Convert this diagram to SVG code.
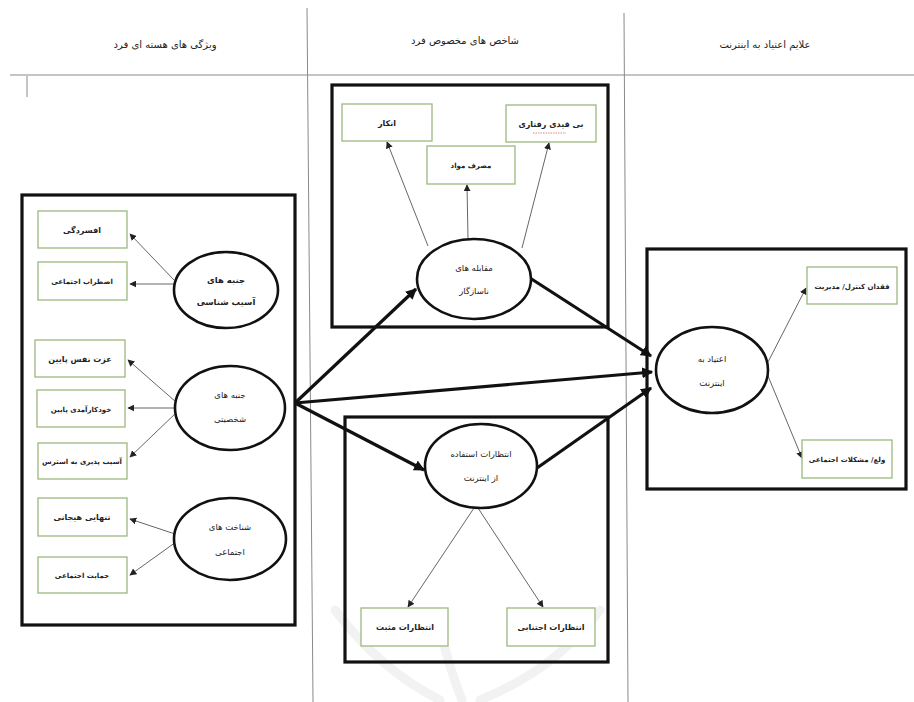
<svg xmlns="http://www.w3.org/2000/svg" width="914" height="702" viewBox="0 0 914 702">
<defs>
<style>
.t{font-family:"DejaVu Sans","Noto Sans",sans-serif;fill:#222;text-anchor:middle;direction:rtl;unicode-bidi:embed}
.h{font-size:10px}
.r{fill:#fff;stroke:#9cb87f;stroke-width:1.3}
.e{fill:#fff;stroke:#111;stroke-width:2.6}
.box{fill:none;stroke:#111;stroke-width:3.2}
.rt{font-size:8px;font-weight:bold}
.sm{font-size:7px}
.et{font-size:8.5px}
.thin{stroke:#555;stroke-width:0.9;fill:none;marker-end:url(#as)}
.thick{stroke:#111;stroke-width:3.2;fill:none;marker-end:url(#al)}
.grid{stroke:#8a8a8a;stroke-width:1;fill:none}
.wm{stroke:#f2f2f2;stroke-width:9;fill:none;stroke-linecap:round}
</style>
<marker id="as" viewBox="0 0 10 10" refX="9" refY="5" markerWidth="7" markerHeight="7" markerUnits="userSpaceOnUse" orient="auto"><path d="M0,0 L10,5 L0,10 z" fill="#222"/></marker>
<marker id="al" viewBox="0 0 10 10" refX="9" refY="5" markerWidth="11" markerHeight="11" markerUnits="userSpaceOnUse" orient="auto"><path d="M0,0 L10,5 L0,10 z" fill="#111"/></marker>
</defs>
<rect width="914" height="702" fill="#fff"/>
<g id="watermark">
<path class="wm" d="M335,610 Q380,670 440,700"/>
<path class="wm" d="M600,610 Q555,670 480,700"/>
<path class="wm" d="M440,630 Q450,670 462,700"/>
</g>
<g id="grid">
<line class="grid" x1="10" y1="75" x2="914" y2="75"/>
<line class="grid" x1="307" y1="8" x2="313" y2="702"/>
<line class="grid" x1="624" y1="13" x2="628" y2="702"/>
<line class="grid" x1="27" y1="76" x2="27" y2="97"/>
<text class="t h" x="165" y="48">ویژگی های هسته ای فرد</text>
<text class="t h" x="465" y="44">شاخص های مخصوص فرد</text>
<text class="t h" x="765" y="48">علایم اعتیاد به اینترنت</text>
</g>
<g id="frames">
<rect class="box" x="22" y="195" width="273" height="430"/>
<rect class="box" x="332" y="85" width="276" height="242"/>
<rect class="box" x="345" y="417" width="263" height="245"/>
<rect class="box" x="647" y="249" width="259" height="240"/>
</g>
<g id="connectors">
<line class="thin" x1="174" y1="280" x2="130" y2="234"/>
<line class="thin" x1="174" y1="284" x2="130" y2="284"/>
<line class="thin" x1="176" y1="402" x2="128" y2="360"/>
<line class="thin" x1="175" y1="408" x2="128" y2="408"/>
<line class="thin" x1="176" y1="413" x2="130" y2="457"/>
<line class="thin" x1="175" y1="534" x2="130" y2="519"/>
<line class="thin" x1="176" y1="542" x2="130" y2="575"/>
<line class="thin" x1="428" y1="246" x2="387" y2="142"/>
<line class="thin" x1="468" y1="239" x2="467" y2="185"/>
<line class="thin" x1="522" y1="248" x2="549" y2="143"/>
<line class="thin" x1="474" y1="508" x2="408" y2="607"/>
<line class="thin" x1="478" y1="508" x2="543" y2="607"/>
<line class="thin" x1="768" y1="362" x2="806" y2="288"/>
<line class="thin" x1="768" y1="376" x2="802" y2="458"/>
<line class="thick" x1="295" y1="403" x2="416" y2="289"/>
<line class="thick" x1="295" y1="403" x2="652" y2="372"/>
<line class="thick" x1="295" y1="403" x2="424" y2="470"/>
<line class="thick" x1="530" y1="278" x2="651" y2="356"/>
<line class="thick" x1="537" y1="468" x2="651" y2="388"/>
</g>
<g id="n-afsordegi"><rect class="r" x="38" y="211" width="89" height="37"/><text class="t rt" x="82" y="233">افسردگی</text></g>
<g id="n-ezterab"><rect class="r" x="38" y="262" width="89" height="38"/><text class="t rt sm" x="82" y="284">اضطراب اجتماعی</text></g>
<g id="n-asibshenasi"><ellipse class="e" cx="226" cy="290" rx="52" ry="38"/><text class="t et" x="226" y="283" font-weight="bold">جنبه های</text><text class="t et" x="226" y="305" font-weight="bold">آسیب شناسی</text></g>
<g id="n-ezzat"><rect class="r" x="35" y="340" width="90" height="37"/><text class="t rt" x="80" y="362">عزت نفس پایین</text></g>
<g id="n-khodkar"><rect class="r" x="37" y="390" width="88" height="37"/><text class="t rt sm" x="81" y="412">خودکارآمدی پایین</text></g>
<g id="n-asibpaziri"><rect class="r" x="38" y="443" width="89" height="36"/><text class="t rt sm" x="82" y="464" font-weight="normal">آسیب پذیری به استرس</text></g>
<g id="n-shakhsiati"><ellipse class="e" cx="230" cy="408" rx="55" ry="42"/><text class="t et" x="230" y="398">جنبه های</text><text class="t et" x="230" y="422">شخصیتی</text></g>
<g id="n-tanhayi"><rect class="r" x="38" y="498" width="89" height="38"/><text class="t rt" x="82" y="520">تنهایی هیجانی</text></g>
<g id="n-hemayat"><rect class="r" x="38" y="557" width="89" height="36"/><text class="t rt sm" x="82" y="578">حمایت اجتماعی</text></g>
<g id="n-shenakht"><ellipse class="e" cx="230" cy="539" rx="56" ry="41"/><text class="t et" x="230" y="530">شناخت های</text><text class="t et" x="230" y="555">اجتماعی</text></g>
<g id="n-enkar"><rect class="r" x="342" y="104" width="90" height="37"/><text class="t rt" x="387" y="126">انکار</text></g>
<g id="n-masraf"><rect class="r" x="427" y="146" width="88" height="38"/><text class="t rt sm" x="471" y="168">مصرف مواد</text></g>
<g id="n-biqeydi"><rect class="r" x="506" y="105" width="90" height="37"/><text class="t rt" x="551" y="127">بی قیدی رفتاری</text><line x1="533" y1="133" x2="566" y2="133" stroke="#d66" stroke-width="0.8" stroke-dasharray="1.5,1"/></g>
<g id="n-moghabele"><ellipse class="e" cx="474" cy="279" rx="57" ry="40"/><text class="t et" x="474" y="271">مقابله های</text><text class="t et" x="474" y="294">ناسازگار</text></g>
<g id="n-entezarat"><ellipse class="e" cx="481" cy="466" rx="56" ry="42"/><text class="t et" x="481" y="457">انتظارات استفاده</text><text class="t et" x="481" y="481">از اینترنت</text></g>
<g id="n-mosbat"><rect class="r" x="361" y="608" width="87" height="38"/><text class="t rt" x="405" y="630">انتظارات مثبت</text></g>
<g id="n-ejtenabi"><rect class="r" x="507" y="608" width="88" height="38"/><text class="t rt" x="551" y="630">انتظارات اجتنابی</text></g>
<g id="n-etiad"><ellipse class="e" cx="712" cy="370" rx="56" ry="43"/><text class="t et" x="712" y="362">اعتیاد به</text><text class="t et" x="712" y="386">اینترنت</text></g>
<g id="n-feqdan"><rect class="r" x="807" y="267" width="90" height="37"/><text class="t rt sm" x="852" y="289" font-weight="normal">فقدان کنترل/ مدیریت</text></g>
<g id="n-vala"><rect class="r" x="802" y="440" width="90" height="38"/><text class="t rt sm" x="847" y="462" font-weight="normal">ولع/ مشکلات اجتماعی</text></g>
</svg>
